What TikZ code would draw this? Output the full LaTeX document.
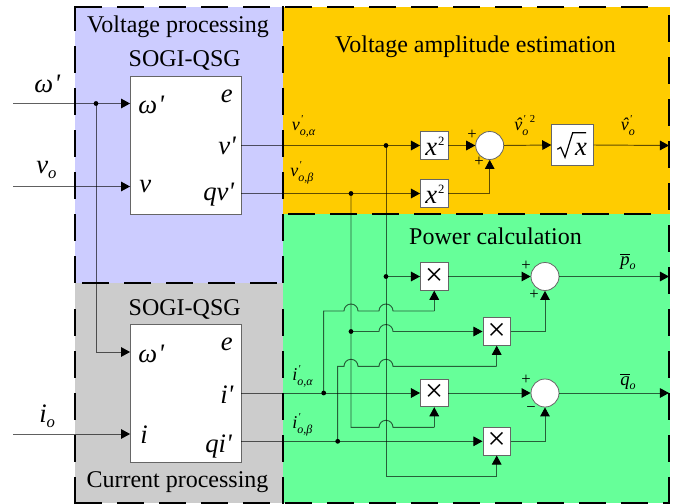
\documentclass[tikz,border=0pt]{standalone}
\usepackage{fontspec}
\setmainfont{Liberation Serif}
\usetikzlibrary{arrows.meta}
\definecolor{vblue}{HTML}{CCCCFF}
\definecolor{vorange}{HTML}{FFCC00}
\definecolor{vgreen}{HTML}{66FF99}
\definecolor{vgray}{HTML}{CCCCCC}
\definecolor{wire}{HTML}{606060}
\newcommand\pq{\textquotesingle}
\newcommand\fs[1]{\fontsize{#1}{#1}\selectfont}
\newcommand\hatv{\rlap{\kern1.1pt ˆ}v}
% small label: letter, prime, subscript
\newcommand\smlab[2]{{\fs{13.5}\itshape #1\rlap{\raisebox{6pt}{\fs{8}\kern.6pt\pq}}\raisebox{-3.8pt}{\fs{9}#2}}}
\tikzset{
  x=.75pt,y=-.75pt,
  frame/.style={draw=black,line width=1.5pt,dash pattern=on 20.6pt off 10.9pt},
  wirel/.style={draw=wire,line width=.72pt},
  ar/.style={wirel,-{Triangle[length=6.8pt,width=7.2pt,black]}},
  blk/.style={draw=black!60,fill=white,line width=.6pt,inner sep=0pt,minimum width=110.5*.75pt,minimum height=138*.75pt},
  sbox/.style={draw=black!60,fill=white,line width=.6pt,inner sep=0pt,minimum width=27.6*.75pt,minimum height=27.6*.75pt},
  sumc/.style={circle,draw=black!60,fill=white,line width=.6pt,inner sep=0pt,minimum size=28*.75pt},
  dotn/.style={circle,fill=black,inner sep=0pt,minimum size=4.8*.75pt},
  ttl/.style={font=\fs{18},inner sep=0pt},
  lab/.style={anchor=base west,inner sep=0pt,font=\fs{20}\itshape},
  slab/.style={anchor=base west,inner sep=0pt},
  pm/.style={inner sep=0pt,font=\fs{12.5}},
  boxtxt/.style={anchor=base west,inner sep=0pt,font=\fs{20}\itshape},
}
\newcommand\hop[2]{-- (#1-7,#2) arc[start angle=180,end angle=360,radius=7] -- (#1+7,#2)}
\newcommand\sq{x\kern.7pt\raisebox{7.5pt}{\fs{9.5}\upshape 2}}
\begin{document}
\begin{tikzpicture}
\useasboundingbox (0,0) rectangle (676,504);
% regions
\fill[vblue] (75,7) rectangle (283,283);
\fill[vgray] (75,283) rectangle (283,503);
\fill[vorange] (283,7) rectangle (669.5,214);
\fill[vgreen] (283,214) rectangle (669.5,503);
% blocks
\node[blk] (s1) at (185.75,145) {};
\node[blk] (s2) at (185.75,393) {};
\node[sbox] (xa) at (434.25,145.5) {};
\node[sbox] (xb) at (434.25,193.5) {};
\node[sbox,minimum width=41.6*.75pt,minimum height=41.4*.75pt] (rt) at (572.5,145) {};
\node[sumc] (sa) at (489.7,145.5) {};
\node[sumc] (sb) at (545,276.5) {};
\node[sumc] (sc) at (545,393) {};
\node[sbox] (m1) at (434.25,276.5) {};
\node[sbox] (m2) at (496.7,331.5) {};
\node[sbox] (m3) at (434.25,393) {};
\node[sbox] (m4) at (496.7,441.3) {};
% named points
\coordinate (iw) at (13,103.5);
\coordinate (iv) at (13,186.5);
\coordinate (ii) at (13,434);
\node[dotn] (dw) at (96,103.5) {};
\coordinate (ow2) at (96,352);
\coordinate (ov) at (241,145.5);
\coordinate (oq) at (241,193.5);
\coordinate (oi) at (241,393);
\coordinate (oj) at (241,441.3);
\node[dotn] (d1) at (386,145.5) {};
\node[dotn] (d2) at (351,193.5) {};
\node[dotn] (d3) at (386,276.5) {};
\node[dotn] (d4) at (351,331.5) {};
\node[dotn] (d5) at (323.7,393) {};
\node[dotn] (d6) at (337.7,441.3) {};
\coordinate (outa) at (669,145.5);
\coordinate (outb) at (669,276.5);
\coordinate (outc) at (669,393);
\begin{scope}[blend mode=multiply]
% inputs
\draw[ar] (iw) -- (iw -| s1.west);
\draw[ar] (iv) -- (iv -| s1.west);
\draw[ar] (ii) -- (ii -| s2.west);
\draw[wirel] (dw.center) -- (ow2);
\draw[ar] (ow2) -- (ow2 -| s2.west);
% voltage path
\draw[ar] (ov) -- (xa.west);
\draw[ar] (oq) -- (xb.west);
\draw[ar] (xa.east) -- (sa.west);
\draw[ar] (xb.east) -| (sa.south);
\draw[ar] (sa.east) -- (rt.west);
\draw[ar] (rt.east) -- (outa);
% verticals
\draw[wirel] (d1.center) -- (386,476.3) -- (496.7,476.3);
\draw[ar] (496.7,476.3) -- (m4.south);
\draw[wirel] (d2.center) -- (351,427.3) \hop{386}{427.3} -- (434.25,427.3);
\draw[ar] (434.25,427.3) -- (m3.south);
\draw[ar] (d3.center) -- (m1.west);
\draw[ar] (d4.center) \hop{386}{331.5} -- (m2.west);
% currents
\draw[ar] (oi) -- (m3.west);
\draw[ar] (oj) -- (m4.west);
\draw[wirel] (d5.center) -- (323.7,311) \hop{351}{311} \hop{386}{311} -- (434.25,311);
\draw[ar] (434.25,311) -- (m1.south);
\draw[wirel] (d6.center) -- (337.7,366.3) \hop{351}{366.3} \hop{386}{366.3} -- (496.7,366.3);
\draw[ar] (496.7,366.3) -- (m2.south);
% power outputs
\draw[ar] (m1.east) -- (sb.west);
\draw[ar] (m2.east) -| (sb.south);
\draw[ar] (sb.east) -- (outb);
\draw[ar] (m3.east) -- (sc.west);
\draw[ar] (m4.east) -| (sc.south);
\draw[ar] (sc.east) -- (outc);
\end{scope}
% frames
\draw[frame,dash phase=1.5pt] (75,6) -- (75,283);
\draw[frame] (75,309) -- (75,503.5);
\draw[frame,dash phase=1.5pt] (283,6) -- (283,283);
\draw[frame] (283,309) -- (283,503.5);
\draw[frame] (669.3,15) -- (669.3,503.5);
\draw[frame] (75,7) -- (649,7);
\draw[frame] (82,283) -- (278,283);
\draw[frame] (288,214) -- (653,214);
\draw[frame] (75,503) -- (669.3,503);
% titles
\node[ttl] (t1) at (178,27) {Voltage processing};
\node[ttl] (t2) at (184.7,60) {SOGI-QSG};
\node[ttl] (t3) at (475.5,47) {Voltage amplitude estimation};
\node[ttl] (t4) at (495.5,236) {Power calculation};
\node[ttl] (t5) at (184.7,309) {SOGI-QSG};
\node[ttl] (t6) at (177.5,482) {Current processing};
% big labels
\node[lab] (l1) at (34,92) {ω\kern1pt\pq};
\node[lab] (l2) at (36,173) {v\raisebox{-4pt}{\fs{12.5}o}};
\node[lab] (l3) at (39,422) {i\raisebox{-4pt}{\fs{12.5}o}};
\node[lab] (a1) at (138,113) {ω\kern1pt\pq};
\node[lab] (a2) at (220.5,102) {e};
\node[lab] (a3) at (218,154) {v\pq};
\node[lab] (a4) at (139,192) {v};
\node[lab] (a5) at (203,200) {qv\pq};
\node[lab] (b1) at (138,362) {ω\kern1pt\pq};
\node[lab] (b2) at (220.5,350) {e};
\node[lab] (b3) at (220,403) {i\pq};
\node[lab] (b4) at (140,443) {i};
\node[lab] (b5) at (205,452) {qi\pq};
% small labels
\node[slab] (c1) at (291.5,130) {\smlab{v}{o,α}};
\node[slab] (c2) at (290,176.7) {\smlab{v}{o,β}};
\node[slab] (c3) at (292,380) {\smlab{i}{o,α}};
\node[slab] (c4) at (292,428) {\smlab{i}{o,β}};
\node[slab] (c5) at (514,130.7) {{\fs{13.5}\itshape \hatv\rlap{\raisebox{6pt}{\fs{8}\kern.6pt\pq}}\raisebox{-3.5pt}{\fs{9}o}\kern1.2pt\raisebox{6pt}{\fs{8}\upshape 2}}};
\node[slab] (c6) at (620.5,130.7) {\smlab{\hatv}{o}};
\node[slab] (c7) at (620,265) {{\fs{14}\itshape $\overline{\hbox{\fs{14}\itshape p}}$\raisebox{-3pt}{\fs{9}o}}};
\node[slab] (c8) at (620,385) {{\fs{14}\itshape $\overline{\hbox{\fs{14}\itshape q}}$\raisebox{-3pt}{\fs{9}o}}};
% box contents
\node[boxtxt] (xta) at (425,155) {\sq};
\node[boxtxt] (xtb) at (425,203) {\sq};
\node[boxtxt] (rx) at (574.8,155) {x};
\draw[line width=.9pt,line join=miter] (557.3,149.3) -- (560.7,147.3) -- (565,157.3) -- (572.7,132.7) -- (586,132.7);
\node[inner sep=0pt,font=\fs{24}] (ma) at (m1) {×};
\node[inner sep=0pt,font=\fs{24}] (mb) at (m2) {×};
\node[inner sep=0pt,font=\fs{24}] (mc) at (m3) {×};
\node[inner sep=0pt,font=\fs{24}] (md) at (m4) {×};
% signs
\node[pm] (p1) at (472,135) {+};
\node[pm] (p2) at (479,162) {+};
\node[pm] (p3) at (526,266) {+};
\node[pm] (p4) at (534,295) {+};
\node[pm] (p5) at (526,380) {+};
\node[pm] (p6) at (531,410) {−};
\end{tikzpicture}
\end{document}
